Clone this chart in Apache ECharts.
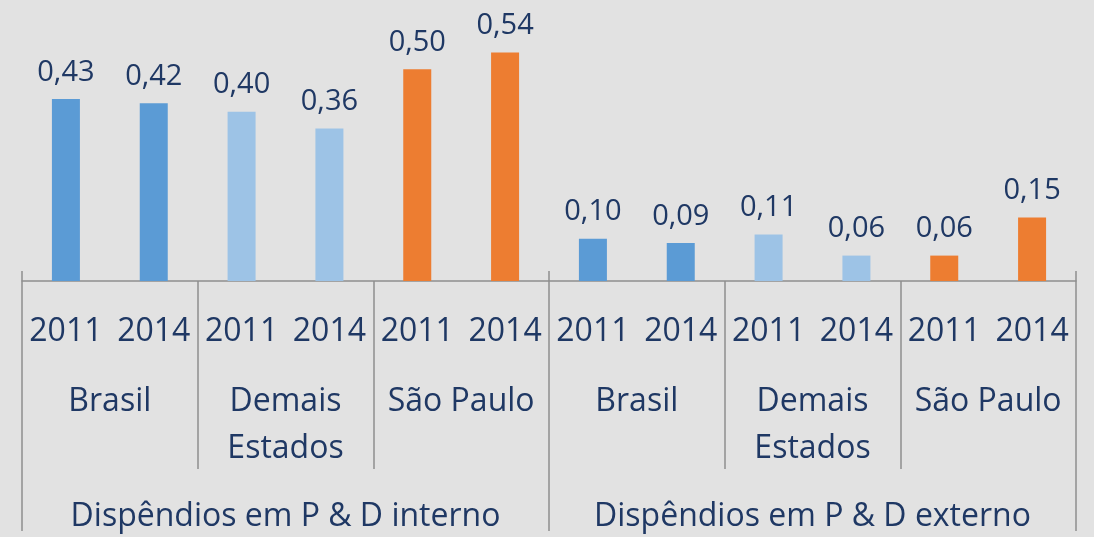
<!DOCTYPE html>
<html>
<head>
<meta charset="utf-8">
<script src="https://cdn.jsdelivr.net/npm/echarts@6/dist/echarts.min.js"></script>
<style>
  html, body { margin: 0; padding: 0; background: #e2e2e2; }
  #chart { width: 1094px; height: 537px; }
</style>
</head>
<body>
<div id="chart"></div>
<script>
  const years = ['2011', '2014', '2011', '2014', '2011', '2014', '2011', '2014', '2011', '2014', '2011', '2014']
  const regions = ['Brasil', 'Demais\nEstados', 'São Paulo', 'Brasil', 'Demais\nEstados', 'São Paulo']
  const groups = ['Dispêndios em P & D interno', 'Dispêndios em P & D externo']
  const values = [0.43, 0.42, 0.40, 0.36, 0.50, 0.54, 0.10, 0.09, 0.11, 0.06, 0.06, 0.15]

  // one colour per region, repeated for both groups
  const regionColors = ['#5b9bd5', '#9dc3e6', '#ed7d31']

  const textColor = '#1f3864'
  const lineColor = '#8f8f8f'
  const font = 'Open Sans'

  const grid = { left: 22, right: 18, top: 27, bottom: 256 }

  const chart = echarts.init(document.getElementById('chart'))

  chart.setOption({
    backgroundColor: '#e2e2e2',
    animation: false,
    grid: [grid, grid, grid],
    xAxis: [
      {
        gridIndex: 0,
        type: 'category',
        data: years,
        axisLine: { lineStyle: { color: lineColor, width: 1.5 } },
        axisTick: { show: false },
        axisLabel: {
          margin: 27,
          color: textColor,
          fontFamily: font,
          fontSize: 32,
          lineHeight: 47,
          interval: 0
        }
      },
      {
        gridIndex: 1,
        type: 'category',
        data: regions,
        axisLine: { show: false },
        axisTick: { show: true, length: 188, lineStyle: { color: lineColor, width: 1.5 } },
        axisLabel: {
          margin: 97,
          color: textColor,
          fontFamily: font,
          fontSize: 32,
          lineHeight: 47,
          interval: 0
        }
      },
      {
        gridIndex: 2,
        type: 'category',
        data: groups,
        axisLine: { show: false },
        axisTick: { show: true, length: 260, lineStyle: { color: lineColor, width: 1.5 } },
        axisLabel: {
          margin: 226,
          color: textColor,
          fontFamily: font,
          fontSize: 32,
          lineHeight: 40,
          interval: 0
        }
      }
    ],
    yAxis: [0, 1, 2].map(i => ({
      gridIndex: i,
      type: 'value',
      min: 0,
      max: 0.6,
      show: false,
      splitLine: { show: false }
    })),
    series: [
      {
        type: 'bar',
        xAxisIndex: 0,
        yAxisIndex: 0,
        barWidth: 28,
        data: values.map((v, i) => ({
          value: v,
          itemStyle: { color: regionColors[Math.floor(i / 2) % 3] }
        })),
        label: {
          show: true,
          position: 'top',
          distance: 12,
          color: textColor,
          fontFamily: font,
          fontSize: 29,
          formatter: p => p.value.toFixed(2).replace('.', ',')
        }
      }
    ]
  })
</script>
</body>
</html>
